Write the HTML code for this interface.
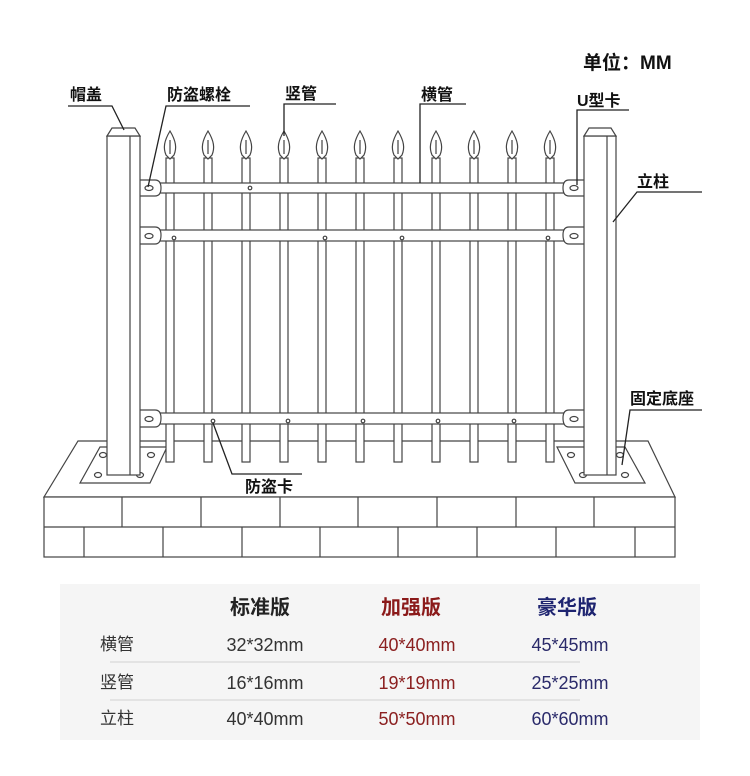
<!DOCTYPE html>
<html><head><meta charset="utf-8"><style>
html,body{margin:0;padding:0;background:#fff;}
svg{display:block;}
text{font-family:"Liberation Sans","Noto Sans CJK SC",sans-serif;}
</style></head><body>
<svg width="750" height="776" viewBox="0 0 750 776" xmlns="http://www.w3.org/2000/svg">
<g stroke="#444" stroke-width="1.2" fill="#fff">
<polygon points="78,441 648,441 675,497 44,497"/>
<rect x="44" y="497" width="631" height="60"/>
<line x1="44" y1="527" x2="675" y2="527"/>
<g>
<line x1="122" y1="497" x2="122" y2="527"/><line x1="201" y1="497" x2="201" y2="527"/><line x1="280" y1="497" x2="280" y2="527"/><line x1="358" y1="497" x2="358" y2="527"/><line x1="437" y1="497" x2="437" y2="527"/><line x1="516" y1="497" x2="516" y2="527"/><line x1="594" y1="497" x2="594" y2="527"/>
<line x1="84" y1="527" x2="84" y2="557"/><line x1="163" y1="527" x2="163" y2="557"/><line x1="242" y1="527" x2="242" y2="557"/><line x1="320" y1="527" x2="320" y2="557"/><line x1="398" y1="527" x2="398" y2="557"/><line x1="477" y1="527" x2="477" y2="557"/><line x1="556" y1="527" x2="556" y2="557"/><line x1="635" y1="527" x2="635" y2="557"/>
</g>
<polygon points="100,447 167,447 150,483 80,483"/>
<polygon points="557,447 625,447 645,483 575,483"/>
<ellipse cx="103" cy="455" rx="3.5" ry="2.5"/><ellipse cx="151" cy="455" rx="3.5" ry="2.5"/><ellipse cx="98" cy="475" rx="3.5" ry="2.5"/><ellipse cx="140" cy="475" rx="3.5" ry="2.5"/>
<ellipse cx="571" cy="455" rx="3.5" ry="2.5"/><ellipse cx="620" cy="455" rx="3.5" ry="2.5"/><ellipse cx="583" cy="475" rx="3.5" ry="2.5"/><ellipse cx="625" cy="475" rx="3.5" ry="2.5"/>
<g id="pk">
<rect x="166" y="158" width="8" height="304"/>
<path d="M170,131 C164,141 163,148 166,155 L170,159 L174,155 C177,148 176,141 170,131 Z"/>
<line x1="170" y1="140" x2="170" y2="154"/>
</g>
<use href="#pk" x="38"/><use href="#pk" x="76"/><use href="#pk" x="114"/><use href="#pk" x="152"/><use href="#pk" x="190"/><use href="#pk" x="228"/><use href="#pk" x="266"/><use href="#pk" x="304"/><use href="#pk" x="342"/><use href="#pk" x="380"/>
<rect x="138" y="183" width="447" height="10"/>
<rect x="138" y="230" width="447" height="11"/>
<rect x="138" y="413" width="447" height="11"/>
<path d="M138,180 H155 Q161,180 161,188 Q161,196 155,196 H138 Z"/>
<path d="M138,227 H155 Q161,227 161,235 Q161,244 155,244 H138 Z"/>
<path d="M138,410 H155 Q161,410 161,418 Q161,427 155,427 H138 Z"/>
<path d="M585,180 H569 Q563,180 563,188 Q563,196 569,196 H585 Z"/>
<path d="M585,227 H569 Q563,227 563,235 Q563,244 569,244 H585 Z"/>
<path d="M585,410 H569 Q563,410 563,418 Q563,427 569,427 H585 Z"/>
<ellipse cx="149" cy="188" rx="4" ry="2.5"/><ellipse cx="149" cy="236" rx="4" ry="2.5"/><ellipse cx="149" cy="419" rx="4" ry="2.5"/>
<ellipse cx="574" cy="188" rx="4" ry="2.5"/><ellipse cx="574" cy="236" rx="4" ry="2.5"/><ellipse cx="574" cy="419" rx="4" ry="2.5"/>
<circle cx="250" cy="188" r="1.8"/>
<circle cx="174" cy="238" r="1.8"/><circle cx="325" cy="238" r="1.8"/><circle cx="402" cy="238" r="1.8"/><circle cx="548" cy="238" r="1.8"/>
<circle cx="213" cy="421" r="1.8"/><circle cx="288" cy="421" r="1.8"/><circle cx="363" cy="421" r="1.8"/><circle cx="438" cy="421" r="1.8"/><circle cx="514" cy="421" r="1.8"/>
<rect x="107" y="136" width="33" height="339"/>
<polygon points="107,136 112,128 135,128 140,136"/>
<line x1="130" y1="136" x2="130" y2="475"/>
<rect x="584" y="136" width="32" height="339"/>
<polygon points="584,136 589,128 611,128 616,136"/>
<line x1="607" y1="136" x2="607" y2="475"/>
</g>
<g stroke="#222" stroke-width="1.3" fill="none">
<polyline points="68,106 112,106 124,130"/>
<polyline points="250,106 166,106 148,187"/>
<polyline points="336,104 284,104 284,136"/>
<polyline points="466,104 420,104 420,183"/>
<polyline points="629,110 577,110 577,185"/>
<polyline points="702,192 637,192 613,222"/>
<polyline points="702,410 630,410 622,465"/>
<polyline points="213,423 232,474 302,474"/>
</g>
<g fill="#111" font-size="16" font-weight="bold">
<text x="70" y="100">帽盖</text>
<text x="167" y="100">防盗螺栓</text>
<text x="285" y="99">竖管</text>
<text x="421" y="100">横管</text>
<text x="577" y="106">U型卡</text>
<text x="637" y="187">立柱</text>
<text x="630" y="404">固定底座</text>
<text x="245" y="492">防盗卡</text>
<text x="583" y="69" font-size="19">单位：MM</text>
</g>
<rect x="60" y="584" width="640" height="156" fill="#f5f5f5"/>
<line x1="110" y1="662" x2="580" y2="662" stroke="#ddd" stroke-width="1.5"/>
<line x1="110" y1="700" x2="580" y2="700" stroke="#ddd" stroke-width="1.5"/>
<g font-size="20" font-weight="bold" text-anchor="middle">
<text x="260" y="614" fill="#222">标准版</text>
<text x="411" y="614" fill="#8b1a1a">加强版</text>
<text x="567" y="614" fill="#1e2470">豪华版</text>
</g>
<g font-size="17">
<text x="100" y="650" fill="#333">横管</text>
<text x="100" y="688" fill="#333">竖管</text>
<text x="100" y="724" fill="#333">立柱</text>
</g>
<g font-size="18" text-anchor="middle">
<text x="265" y="651" fill="#333">32*32mm</text>
<text x="265" y="689" fill="#333">16*16mm</text>
<text x="265" y="725" fill="#333">40*40mm</text>
<text x="417" y="651" fill="#8b2020">40*40mm</text>
<text x="417" y="689" fill="#8b2020">19*19mm</text>
<text x="417" y="725" fill="#8b2020">50*50mm</text>
<text x="570" y="651" fill="#2a2a6a">45*45mm</text>
<text x="570" y="689" fill="#2a2a6a">25*25mm</text>
<text x="570" y="725" fill="#2a2a6a">60*60mm</text>
</g>
</svg>
</body></html>
